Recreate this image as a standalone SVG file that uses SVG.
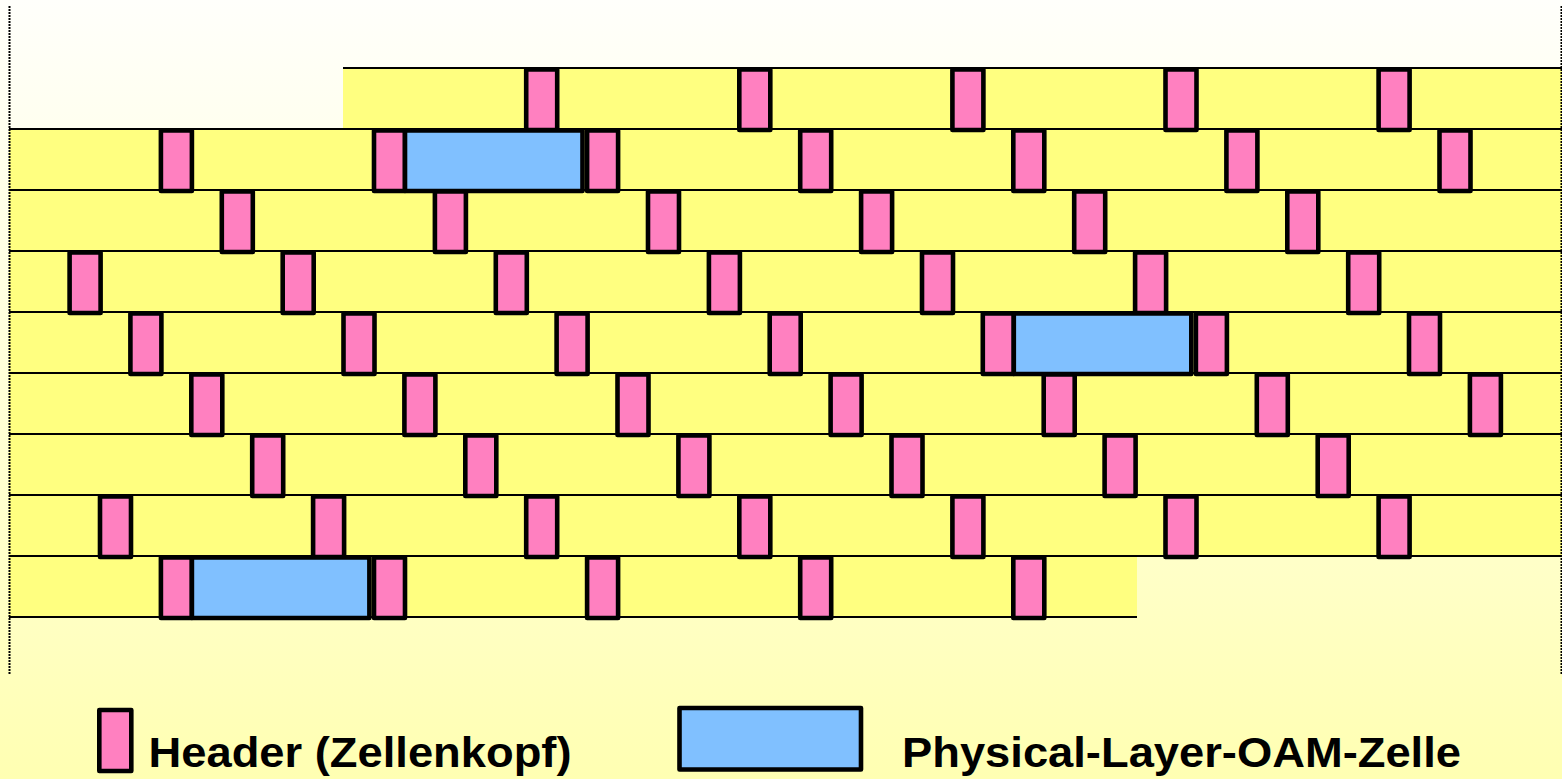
<svg xmlns="http://www.w3.org/2000/svg" width="1562" height="779" viewBox="0 0 1562 779">
<defs>
<linearGradient id="bg" x1="0" y1="0" x2="0" y2="1">
<stop offset="0" stop-color="#FFFFFB"/>
<stop offset="0.75" stop-color="#FFFFC6"/>
<stop offset="1" stop-color="#FFFFB2"/>
</linearGradient>
<style>
.row{fill:#FFFF80;stroke:none}
.rl{stroke:#000;stroke-width:2.2;fill:none}
.hd{fill:#FF80C0;stroke:#000;stroke-width:4.6;stroke-linejoin:round}
.oam{fill:#80C0FF;stroke:#000;stroke-width:4.6;stroke-linejoin:round}
.dot{stroke:#000;stroke-width:2;stroke-dasharray:2 1;fill:none}
.lbl{font-family:"Liberation Sans",Arial,sans-serif;font-weight:bold;font-size:43px;fill:#000}
</style>
</defs>
<rect x="0" y="0" width="1562" height="779" fill="url(#bg)"/>
<g id="rows">
<rect class="row" x="343" y="68" width="1219" height="61"/>
<rect class="row" x="9" y="129" width="1553" height="427"/>
<rect class="row" x="9" y="556" width="1128" height="61"/>
<path class="rl" d="M343 68H1562M9 129H1562M9 190H1562M9 251H1562M9 312H1562M9 373H1562M9 434H1562M9 495H1562M9 556H1562M9 617H1137"/>
</g>
<g id="frame">
<line class="dot" x1="9.5" y1="6" x2="9.5" y2="674"/>
<line class="dot" x1="1561.5" y1="6" x2="1561.5" y2="674"/>
</g>
<g id="row0">
<rect class="hd" x="526.2" y="69.5" width="31" height="60.5"/>
<rect class="hd" x="739.3" y="69.5" width="31" height="60.5"/>
<rect class="hd" x="952.4" y="69.5" width="31" height="60.5"/>
<rect class="hd" x="1165.5" y="69.5" width="31" height="60.5"/>
<rect class="hd" x="1378.6" y="69.5" width="31" height="60.5"/>
</g>
<g id="row1">
<rect class="hd" x="160.9" y="130.5" width="31" height="60.5"/>
<rect class="hd" x="374" y="130.5" width="31" height="60.5"/>
<rect class="oam" x="405" y="130.5" width="177.5" height="60.5"/>
<rect class="hd" x="587.1" y="130.5" width="31" height="60.5"/>
<rect class="hd" x="800.2" y="130.5" width="31" height="60.5"/>
<rect class="hd" x="1013.3" y="130.5" width="31" height="60.5"/>
<rect class="hd" x="1226.4" y="130.5" width="31" height="60.5"/>
<rect class="hd" x="1439.5" y="130.5" width="31" height="60.5"/>
</g>
<g id="row2">
<rect class="hd" x="221.8" y="191.5" width="31" height="60.5"/>
<rect class="hd" x="434.9" y="191.5" width="31" height="60.5"/>
<rect class="hd" x="648" y="191.5" width="31" height="60.5"/>
<rect class="hd" x="861.1" y="191.5" width="31" height="60.5"/>
<rect class="hd" x="1074.2" y="191.5" width="31" height="60.5"/>
<rect class="hd" x="1287.3" y="191.5" width="31" height="60.5"/>
</g>
<g id="row3">
<rect class="hd" x="69.6" y="252.5" width="31" height="60.5"/>
<rect class="hd" x="282.7" y="252.5" width="31" height="60.5"/>
<rect class="hd" x="495.8" y="252.5" width="31" height="60.5"/>
<rect class="hd" x="708.9" y="252.5" width="31" height="60.5"/>
<rect class="hd" x="922" y="252.5" width="31" height="60.5"/>
<rect class="hd" x="1135.1" y="252.5" width="31" height="60.5"/>
<rect class="hd" x="1348.2" y="252.5" width="31" height="60.5"/>
</g>
<g id="row4">
<rect class="hd" x="130.4" y="313.5" width="31" height="60.5"/>
<rect class="hd" x="343.5" y="313.5" width="31" height="60.5"/>
<rect class="hd" x="556.6" y="313.5" width="31" height="60.5"/>
<rect class="hd" x="769.7" y="313.5" width="31" height="60.5"/>
<rect class="hd" x="982.8" y="313.5" width="31" height="60.5"/>
<rect class="oam" x="1013.8" y="313.5" width="177.5" height="60.5"/>
<rect class="hd" x="1195.9" y="313.5" width="31" height="60.5"/>
<rect class="hd" x="1409" y="313.5" width="31" height="60.5"/>
</g>
<g id="row5">
<rect class="hd" x="191.3" y="374.5" width="31" height="60.5"/>
<rect class="hd" x="404.4" y="374.5" width="31" height="60.5"/>
<rect class="hd" x="617.5" y="374.5" width="31" height="60.5"/>
<rect class="hd" x="830.6" y="374.5" width="31" height="60.5"/>
<rect class="hd" x="1043.7" y="374.5" width="31" height="60.5"/>
<rect class="hd" x="1256.8" y="374.5" width="31" height="60.5"/>
<rect class="hd" x="1469.9" y="374.5" width="31" height="60.5"/>
</g>
<g id="row6">
<rect class="hd" x="252.2" y="435.5" width="31" height="60.5"/>
<rect class="hd" x="465.3" y="435.5" width="31" height="60.5"/>
<rect class="hd" x="678.4" y="435.5" width="31" height="60.5"/>
<rect class="hd" x="891.5" y="435.5" width="31" height="60.5"/>
<rect class="hd" x="1104.6" y="435.5" width="31" height="60.5"/>
<rect class="hd" x="1317.7" y="435.5" width="31" height="60.5"/>
</g>
<g id="row7">
<rect class="hd" x="100" y="496.5" width="31" height="60.5"/>
<rect class="hd" x="313.1" y="496.5" width="31" height="60.5"/>
<rect class="hd" x="526.2" y="496.5" width="31" height="60.5"/>
<rect class="hd" x="739.3" y="496.5" width="31" height="60.5"/>
<rect class="hd" x="952.4" y="496.5" width="31" height="60.5"/>
<rect class="hd" x="1165.5" y="496.5" width="31" height="60.5"/>
<rect class="hd" x="1378.6" y="496.5" width="31" height="60.5"/>
</g>
<g id="row8">
<rect class="hd" x="160.9" y="557.5" width="31" height="60.5"/>
<rect class="oam" x="191.9" y="557.5" width="177.5" height="60.5"/>
<rect class="hd" x="374" y="557.5" width="31" height="60.5"/>
<rect class="hd" x="587.1" y="557.5" width="31" height="60.5"/>
<rect class="hd" x="800.2" y="557.5" width="31" height="60.5"/>
<rect class="hd" x="1013.3" y="557.5" width="31" height="60.5"/>
</g>
<g id="legend-header">
<rect class="hd" x="99.3" y="710" width="32" height="61"/>
<text class="lbl" x="148.5" y="767" textLength="423" lengthAdjust="spacingAndGlyphs">Header (Zellenkopf)</text>
</g>
<g id="legend-oam">
<rect class="oam" x="679.5" y="708" width="181.5" height="61.5"/>
<text class="lbl" x="902" y="767" textLength="559" lengthAdjust="spacingAndGlyphs">Physical-Layer-OAM-Zelle</text>
</g>
</svg>
